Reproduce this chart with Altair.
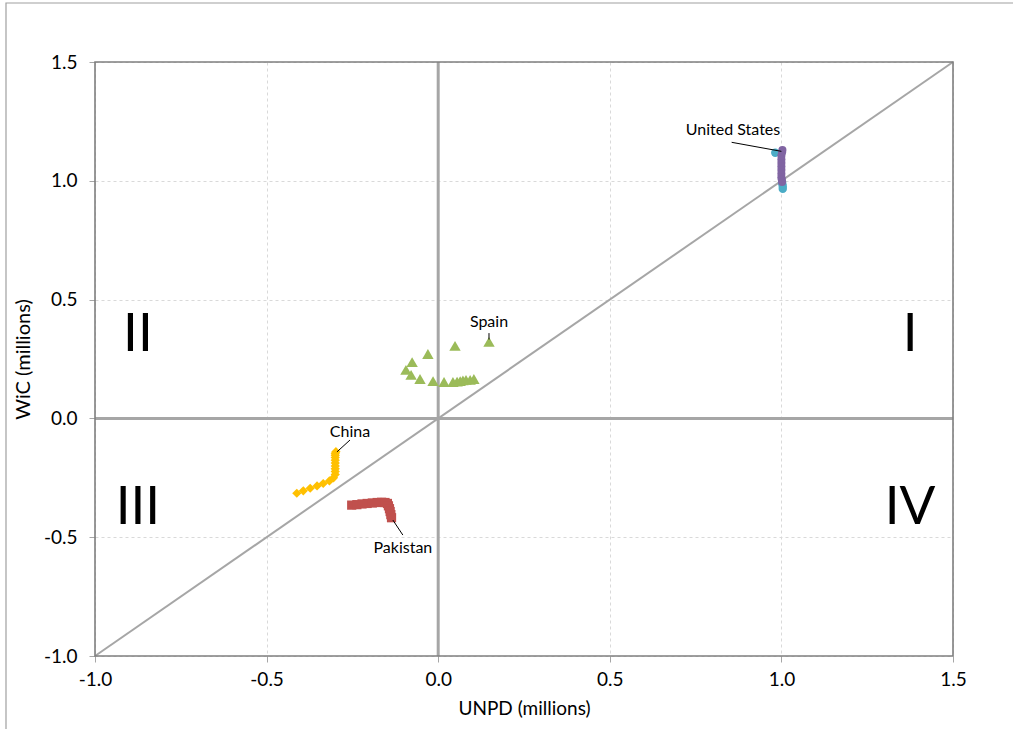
import altair as alt
import pandas as pd

# ---- data (millions) ----
china_x = [-0.412, -0.393, -0.373, -0.353, -0.335, -0.317, -0.305, -0.300, -0.300, -0.300,
           -0.300, -0.300, -0.300, -0.300, -0.300, -0.300, -0.298]
china_y = [-0.315, -0.305, -0.294, -0.284, -0.274, -0.263, -0.250, -0.236, -0.224, -0.212,
           -0.200, -0.188, -0.176, -0.165, -0.155, -0.147, -0.140]

pak_x = [-0.252, -0.237, -0.222, -0.207, -0.192, -0.178, -0.165, -0.155, -0.148, -0.145,
         -0.142, -0.140, -0.138, -0.136]
pak_y = [-0.365, -0.363, -0.360, -0.358, -0.356, -0.354, -0.353, -0.354, -0.358, -0.368,
         -0.380, -0.392, -0.405, -0.418]

spain_x = [0.148, 0.049, -0.030, -0.076, -0.094, -0.079, -0.053, -0.015, 0.017, 0.043,
           0.055, 0.064, 0.072, 0.081, 0.093, 0.104]
spain_y = [0.322, 0.305, 0.271, 0.237, 0.204, 0.183, 0.166, 0.157, 0.153, 0.153,
           0.155, 0.157, 0.160, 0.162, 0.162, 0.166]

us_x = [1.003, 1.002, 1.000, 1.000, 1.000, 1.000, 1.000, 1.000, 1.000, 1.001, 1.002]
us_y = [1.130, 1.120, 1.105, 1.090, 1.075, 1.060, 1.045, 1.030, 1.015, 1.005, 0.995]
us2_x = [0.982, 1.002, 1.003, 1.004, 1.004]
us2_y = [1.118, 0.995, 0.985, 0.975, 0.966]

label_names = ["United States", "Spain", "China", "Pakistan"]
label_x = [0.859, 0.148, -0.257, -0.103]
label_y = [1.214, 0.406, -0.057, -0.545]
lead_x1 = [0.855, 0.148, -0.257, -0.132]
lead_y1 = [1.162, 0.359, -0.091, -0.428]
lead_x2 = [1.000, 0.148, -0.295, -0.103]
lead_y2 = [1.124, 0.332, -0.141, -0.491]

quad_names = ["I", "II", "III", "IV"]
quad_x = [1.375, -0.875, -0.875, 1.375]
quad_y = [0.351, 0.351, -0.377, -0.377]

ticks = [-1.0, -0.5, 0.0, 0.5, 1.0, 1.5]
diag = [-1.0, 1.5]

FONT = "Lato"
lab = "replace(format(datum.value, '.1f'), '\u2212', '-')"

xs = alt.Scale(domain=[-1.0, 1.5], nice=False, zero=False)
ys = alt.Scale(domain=[-1.0, 1.5], nice=False, zero=False)

xax = alt.Axis(values=ticks, labelExpr=lab, title="UNPD (millions)", grid=True,
               gridDash=[3, 3], gridColor="#D9D9D9", domain=False, tickColor="#A6A6A6",
               tickSize=6, labelFontSize=19, labelPadding=8, titleFontSize=19,
               titlePadding=10, labelColor="#000000", titleColor="#000000",
               titleFontWeight="normal", labelFont=FONT, titleFont=FONT, labelFlush=False)
yax = alt.Axis(values=ticks, labelExpr=lab, title="WiC (millions)", grid=True,
               gridDash=[3, 3], gridColor="#D9D9D9", domain=False, tickColor="#A6A6A6",
               tickSize=6, labelFontSize=19, labelPadding=12, titleFontSize=20,
               titlePadding=10, labelColor="#000000", titleColor="#000000",
               titleFontWeight="normal", labelFont=FONT, titleFont=FONT, labelFlush=False)

frame = alt.Chart(pd.DataFrame({"a": [0]})).mark_rect(
    fill=None, stroke="#A0A0A0", strokeWidth=1.2, clip=False
).encode(x=alt.value(-89), x2=alt.value(940), y=alt.value(-59), y2=alt.value(700))

plot_border = alt.Chart(pd.DataFrame({"a": [0]})).mark_rect(
    fill=None, stroke="#7F7F7F", strokeWidth=1.6, clip=False
).encode(x=alt.value(0), x2=alt.value(858), y=alt.value(0), y2=alt.value(594))

base_df = pd.DataFrame({"x": ticks, "y": ticks})
axes = alt.Chart(base_df).mark_point(opacity=0).encode(
    x=alt.X("x:Q", scale=xs, axis=xax), y=alt.Y("y:Q", scale=ys, axis=yax))

zero_v = alt.Chart(pd.DataFrame({"x": [0.0]})).mark_rule(color="#A6A6A6", strokeWidth=3).encode(
    x=alt.X("x:Q", scale=xs))
zero_h = alt.Chart(pd.DataFrame({"y": [0.0]})).mark_rule(color="#A6A6A6", strokeWidth=3).encode(
    y=alt.Y("y:Q", scale=ys))

diag_line = alt.Chart(pd.DataFrame({"x": diag, "y": diag})).mark_line(
    color="#A6A6A6", strokeWidth=2).encode(x=alt.X("x:Q", scale=xs), y=alt.Y("y:Q", scale=ys))

def pts(xv, yv, shape, color, size):
    return alt.Chart(pd.DataFrame({"x": xv, "y": yv})).mark_point(
        shape=shape, filled=True, color=color, size=size, opacity=1).encode(
        x=alt.X("x:Q", scale=xs), y=alt.Y("y:Q", scale=ys))

china = pts(china_x, china_y, "diamond", "#FFC000", 85)
pak = pts(pak_x, pak_y, "square", "#C0504D", 85)
spain = pts(spain_x, spain_y, "triangle-up", "#9BBB59", 130)
us2 = pts(us2_x, us2_y, "circle", "#4BACC6", 70)
us = pts(us_x, us_y, "circle", "#8064A2", 65)

leads = alt.Chart(pd.DataFrame({"x": lead_x1, "y": lead_y1, "x2": lead_x2, "y2": lead_y2})).mark_rule(
    color="#000000", strokeWidth=1).encode(
    x=alt.X("x:Q", scale=xs), y=alt.Y("y:Q", scale=ys), x2="x2:Q", y2="y2:Q")

labels = alt.Chart(pd.DataFrame({"x": label_x, "y": label_y, "t": label_names})).mark_text(
    font=FONT, fontSize=16, color="#000000", align="center", baseline="middle").encode(
    x=alt.X("x:Q", scale=xs), y=alt.Y("y:Q", scale=ys), text="t:N")

quads = alt.Chart(pd.DataFrame({"x": quad_x, "y": quad_y, "t": quad_names})).mark_text(
    font=FONT, fontSize=53, color="#000000", align="center", baseline="middle").encode(
    x=alt.X("x:Q", scale=xs), y=alt.Y("y:Q", scale=ys), text="t:N")

chart = alt.layer(frame, axes, zero_v, zero_h, diag_line, plot_border, china, pak, spain, us2, us,
                  leads, labels, quads).properties(
    width=858, height=594,
    autosize=alt.AutoSizeParams(type="none"),
    padding={"left": 95, "top": 62, "right": 60, "bottom": 73},
    background="#FFFFFF",
).configure_view(stroke=None)

chart.save("out.html", embed_options={"renderer": "svg", "actions": False})
